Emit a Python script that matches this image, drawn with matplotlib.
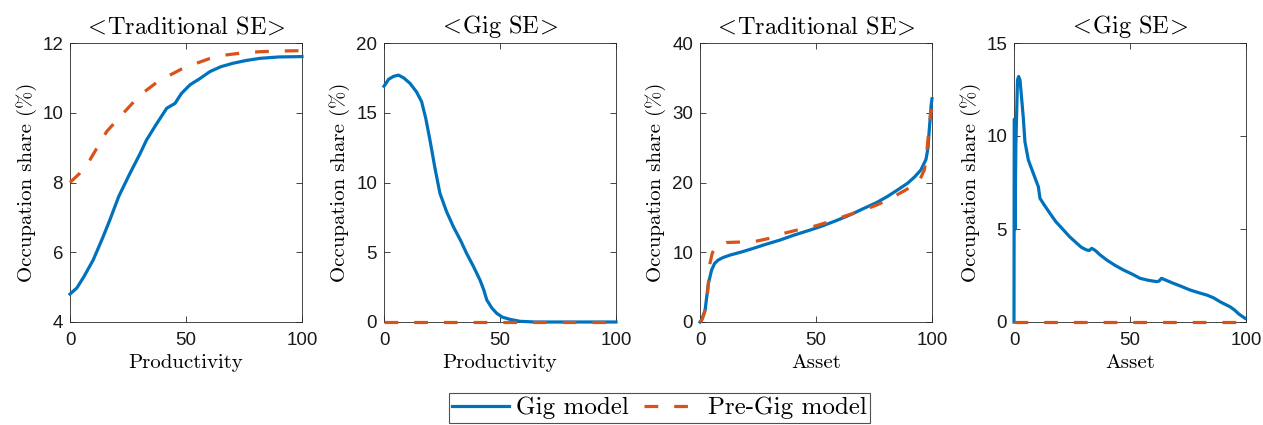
import matplotlib
matplotlib.use("Agg")
import matplotlib.pyplot as plt

# Occupation share by productivity / asset percentile
prod_gig_trad_x = [0, 3, 6, 10, 14, 17.2, 21, 25.9, 30, 33, 37, 41.7, 43.5, 45.3, 48, 51.7, 56, 60.3, 65, 70.3, 76, 81.9, 90, 100]
prod_gig_trad_y = [4.8, 4.98, 5.3, 5.78, 6.4, 6.93, 7.6, 8.27, 8.8, 9.22, 9.65, 10.13, 10.2, 10.27, 10.55, 10.8, 10.98, 11.18, 11.32, 11.42, 11.5, 11.56, 11.6, 11.61]
prod_pre_trad_x = [0, 4, 8.6, 15.8, 23, 28, 33, 38, 43.1, 48, 54.6, 60, 67.5, 75, 81.9, 90, 100]
prod_pre_trad_y = [8.0, 8.25, 8.65, 9.46, 9.99, 10.35, 10.65, 10.9, 11.08, 11.25, 11.42, 11.55, 11.66, 11.72, 11.75, 11.77, 11.78]

prod_gig_gig_x = [0, 2, 4, 6.2, 8.5, 11.2, 14, 16.2, 18, 19.8, 22, 24.1, 27, 29.9, 33, 35.6, 38.5, 41.4, 43, 44.3, 46.5, 48.6, 51, 54.3, 58.6, 65, 100]
prod_gig_gig_y = [16.9, 17.4, 17.6, 17.7, 17.5, 17.11, 16.5, 15.8, 14.6, 13.05, 11.0, 9.23, 7.9, 6.83, 5.85, 4.92, 4.0, 3.0, 2.3, 1.58, 1.0, 0.62, 0.35, 0.19, 0.05, 0.0, 0.0]
prod_pre_gig_x = [0, 100]
prod_pre_gig_y = [0, 0]

asset_gig_trad_x = [0, 0.7, 2.2, 3.6, 5.0, 6.3, 7.9, 10, 13, 18, 23.1, 28, 34.6, 40, 47.6, 53, 59.2, 65, 70.7, 76, 80.8, 85, 89.5, 92.5, 95.2, 97.4, 98.3, 98.8, 99.3, 99.6, 100]
asset_gig_trad_y = [0, 0.3, 1.7, 5.5, 7.45, 8.4, 8.9, 9.25, 9.6, 10.05, 10.57, 11.1, 11.76, 12.4, 13.2, 13.8, 14.6, 15.4, 16.3, 17.1, 18.0, 18.9, 19.9, 20.8, 21.8, 23.3, 25.0, 27.5, 29.5, 31.0, 32.0]
asset_pre_trad_x = [0, 0.8, 1.8, 2.9, 3.6, 4.3, 5.3, 6.5, 8.5, 11.5, 16, 23, 30, 36, 42, 49, 56, 63.5, 70, 76.4, 82, 88, 91.5, 94.5, 96.7, 97.5, 98.2, 98.9, 99.4, 100]
asset_pre_trad_y = [0, 0.3, 1.2, 2.7, 5.5, 8.4, 9.9, 10.6, 11.1, 11.4, 11.45, 11.5, 12.0, 12.7, 13.2, 13.7, 14.4, 15.3, 16.0, 16.8, 17.7, 18.8, 19.5, 20.2, 21.8, 23.5, 26.0, 28.2, 29.9, 30.5]

asset_gig_gig_x = [0, 0.1, 0.25, 0.45, 0.8, 1.5, 2.0, 2.6, 3.3, 4.0, 4.7, 6.2, 8.3, 10.5, 11.2, 13, 15.5, 18, 21.3, 24, 27, 29, 31.3, 32.5, 33.5, 35, 37, 40, 43.5, 47.1, 51, 54.3, 58, 61.5, 62.5, 63.6, 66, 68.7, 72, 75.9, 80, 83.1, 86, 88.8, 91, 93.1, 95, 97, 99.6]
asset_gig_gig_y = [0, 10.9, 10.9, 5.0, 9.5, 13.0, 13.2, 13.0, 12.0, 11.0, 9.7, 8.7, 8.0, 7.27, 6.65, 6.3, 5.84, 5.4, 4.95, 4.58, 4.24, 4.02, 3.87, 3.85, 3.96, 3.85, 3.62, 3.33, 3.05, 2.8, 2.57, 2.35, 2.24, 2.17, 2.2, 2.35, 2.22, 2.08, 1.92, 1.72, 1.56, 1.45, 1.3, 1.09, 0.95, 0.82, 0.65, 0.42, 0.2]
asset_pre_gig_x = [0, 100]
asset_pre_gig_y = [0, 0]

titles = [r"$\!<\!$Traditional SE$\!>\!$", r"$\!<\!$Gig SE$\!>\!$",
          r"$\!<\!$Traditional SE$\!>\!$", r"$\!<\!$Gig SE$\!>\!$"]
xlabels = ["Productivity", "Productivity", "Asset", "Asset"]
ylims = [(4, 12), (0, 20), (0, 40), (0, 15)]
yticks = [[4, 6, 8, 10, 12], [0, 5, 10, 15, 20], [0, 10, 20, 30, 40], [0, 5, 10, 15]]
xticks = [0, 50, 100]

series = [
    (prod_gig_trad_x, prod_gig_trad_y, prod_pre_trad_x, prod_pre_trad_y),
    (prod_gig_gig_x, prod_gig_gig_y, prod_pre_gig_x, prod_pre_gig_y),
    (asset_gig_trad_x, asset_gig_trad_y, asset_pre_trad_x, asset_pre_trad_y),
    (asset_gig_gig_x, asset_gig_gig_y, asset_pre_gig_x, asset_pre_gig_y),
]

BLUE = "#0072BD"
ORANGE = "#D95319"
SPINE = "#262626"

plt.rcParams["mathtext.fontset"] = "cm"
serif = "cmr10"
tickfont = "Liberation Sans"

fig = plt.figure(figsize=(12.63, 4.25), dpi=100)
W, H = 1263, 425
lefts = [70, 384, 700, 1014]
ax_w, top_px, bot_px = 232, 43, 322

handles = []
for i, (gx, gy, px, py) in enumerate(series):
    ax = fig.add_axes([lefts[i] / W, 1 - bot_px / H, ax_w / W, (bot_px - top_px) / H])
    l1, = ax.plot(gx, gy, color=BLUE, lw=2.3, clip_on=False, label="Gig model", zorder=3)
    l2, = ax.plot(px, py, color=ORANGE, lw=2.3, ls=(0, (4.3, 5.0)), clip_on=False,
                  label="Pre-Gig model", zorder=4)
    if i == 0:
        handles = [l1, l2]
    ax.set_xlim(0, 100)
    ax.set_ylim(*ylims[i])
    ax.set_xticks(xticks)
    ax.set_yticks(yticks[i])
    ax.tick_params(direction="in", top=True, right=True, length=4, width=0.6,
                   color=SPINE, labelsize=13.5, labelcolor="#1a1a1a")
    ax.tick_params(axis="x", pad=7)
    ax.tick_params(axis="y", pad=5)
    for lab in ax.get_xticklabels() + ax.get_yticklabels():
        lab.set_fontfamily(tickfont)
    for sp in ax.spines.values():
        sp.set_color(SPINE)
        sp.set_linewidth(0.6)
    ax.set_title(titles[i], fontfamily=serif, fontsize=17.5, pad=7)
    ax.set_xlabel(xlabels[i], fontfamily=serif, fontsize=15, labelpad=4)
    ax.set_ylabel("Occupation share (%)", fontfamily=serif, fontsize=15, labelpad=4)

leg = fig.legend(handles=handles, loc="center", bbox_to_anchor=(659.5 / W, 1 - 408 / H),
                 ncol=2, frameon=True, fancybox=False, handlelength=2.25,
                 columnspacing=0.6, handletextpad=0.3, borderpad=0.15, borderaxespad=0,
                 prop={"family": serif, "size": 18})
leg.get_frame().set_edgecolor(SPINE)
leg.get_frame().set_linewidth(0.8)

fig.savefig("out.png", dpi=100)
